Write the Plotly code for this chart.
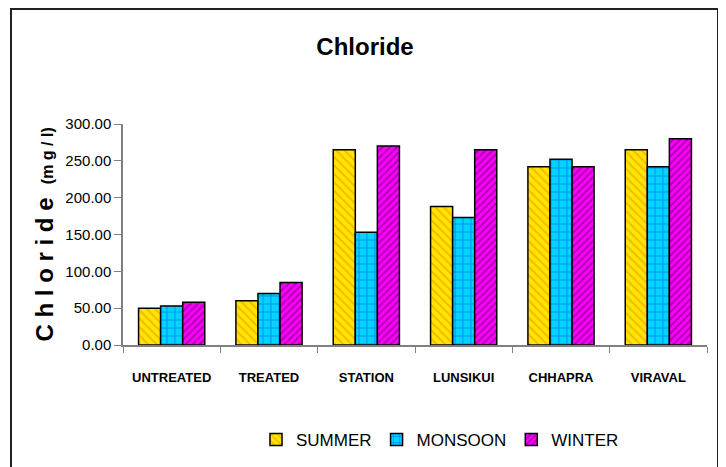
import plotly.graph_objects as go

# --- data ---
categories = ["UNTREATED", "TREATED", "STATION", "LUNSIKUI", "CHHAPRA", "VIRAVAL"]
summer = [50, 60, 265, 188, 242, 265]
monsoon = [53, 70, 153, 173, 252, 242]
winter = [58, 85, 270, 265, 242, 280]

FONT = "Liberation Sans, Arial, sans-serif"

# the page body has an 8px margin, so the figure is drawn 8px smaller/offset
OFF = 8
W, H = 726 - OFF, 467 - OFF
L, R, T, B = 123 - OFF, 19, 124 - OFF, 122
PW, PH = W - L - R, H - T - B


def px_x(x):
    # page pixel x -> paper coordinate
    return (x - OFF - L) / PW


def px_y(y):
    # page pixel y -> paper coordinate
    return (H - B - (y - OFF)) / PH


fig = go.Figure()

fig.add_trace(
    go.Bar(
        x=categories,
        y=summer,
        name="SUMMER",
        marker=dict(
            color="#FFE600",
            line=dict(color="black", width=1.5),
            pattern=dict(shape="\\", fgcolor="#F08C00", size=6, solidity=0.35),
        ),
    )
)
fig.add_trace(
    go.Bar(
        x=categories,
        y=monsoon,
        name="MONSOON",
        marker=dict(
            color="#00D4FF",
            line=dict(color="black", width=1.5),
            pattern=dict(shape="+", fgcolor="#1030F0", size=8, solidity=0.2),
        ),
    )
)
fig.add_trace(
    go.Bar(
        x=categories,
        y=winter,
        name="WINTER",
        marker=dict(
            color="#FF00FF",
            line=dict(color="black", width=1.5),
            pattern=dict(shape="/", fgcolor="#5A0060", size=5, solidity=0.4),
        ),
    )
)

# y-axis title (spaced letters + smaller unit)
fig.add_annotation(
    xref="paper",
    yref="paper",
    x=px_x(44),
    y=0.5,
    text="<b>C h l o r i d e  <span style='font-size:16px'>(m g / l)</span></b>",
    textangle=-90,
    showarrow=False,
    font=dict(family=FONT, size=24, color="black"),
    xanchor="center",
    yanchor="middle",
)

# outer frame of the chart
fig.add_shape(
    type="rect",
    xref="paper",
    yref="paper",
    x0=px_x(11),
    x1=px_x(718),
    y0=px_y(490),
    y1=px_y(9),
    line=dict(color="#222222", width=2),
    fillcolor="rgba(0,0,0,0)",
    layer="below",
)

fig.update_layout(
    width=W,
    height=H,
    margin=dict(l=L, r=R, t=T, b=B, autoexpand=False),
    paper_bgcolor="white",
    plot_bgcolor="white",
    barmode="group",
    bargap=0.32,
    bargroupgap=0,
    title=dict(
        text="<b>Chloride</b>",
        x=(365 - OFF) / W,
        xanchor="center",
        y=1 - (47 - OFF) / H,
        yanchor="middle",
        font=dict(family=FONT, size=24, color="black"),
    ),
    legend=dict(
        orientation="h",
        x=px_x(440),
        xanchor="center",
        y=px_y(440),
        yanchor="middle",
        font=dict(family=FONT, size=17, color="black"),
        itemwidth=30,
        tracegroupgap=0,
        bgcolor="rgba(0,0,0,0)",
    ),
    font=dict(family=FONT, color="black"),
)

fig.update_xaxes(
    showline=True,
    linecolor="#808080",
    linewidth=1.5,
    ticks="outside",
    tickson="boundaries",
    ticklen=6,
    tickcolor="#808080",
    showgrid=False,
    tickangle=0,
    tickfont=dict(family=FONT, size=13, color="black"),
    tickprefix="<b>",
    ticksuffix="</b>",
    ticklabelstandoff=20,
)

fig.update_yaxes(
    range=[0, 300],
    dtick=50,
    tickformat=".2f",
    showline=True,
    linecolor="#808080",
    linewidth=1.5,
    ticks="outside",
    ticklen=7,
    tickcolor="#808080",
    showgrid=False,
    zeroline=False,
    tickfont=dict(family=FONT, size=15, color="black"),
)

fig.write_html("out.html")
